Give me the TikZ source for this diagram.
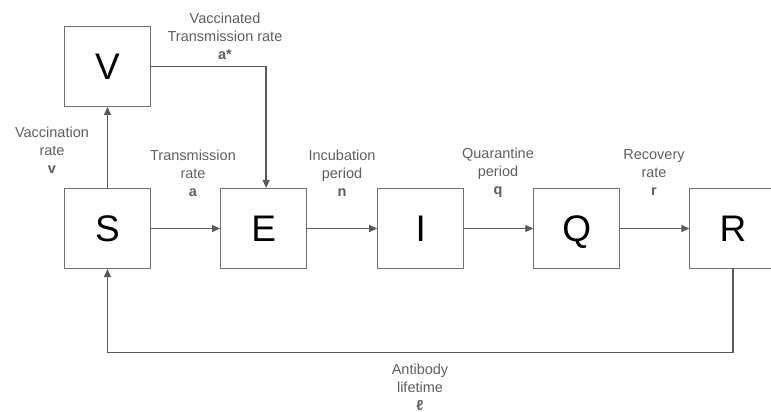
\documentclass[tikz,border=0pt]{standalone}
\usepackage{fontspec}
\setmainfont{Liberation Sans}
\usetikzlibrary{arrows.meta,positioning}
\definecolor{linegray}{HTML}{595959}
\definecolor{boxgray}{HTML}{707070}
\definecolor{textgray}{HTML}{5F5F5F}
\tikzset{
flow/.style={>={Triangle[length=8pt,width=7pt]},x=1pt,y=-1pt,
node distance=69pt,line width=1.3pt},
compartment/.style={rectangle,draw=boxgray,line width=1.1pt,minimum width=86pt,
minimum height=80pt,inner sep=0pt,text height=26.5pt,text depth=0pt,
font=\fontsize{37}{40}\selectfont},
rate/.style={align=center,text=textgray,font=\fontsize{14.5}{18}\selectfont},
transfer/.style={->,draw=linegray},
}

\begin{document}
\begin{tikzpicture}[flow]
\useasboundingbox (0,0) rectangle (771,412);
\node[compartment] (S) at (107.5,228.5) {S};
\node[compartment] (V) [above=81pt of S] {V};
\node[compartment] (E) [right=of S] {E};
\node[compartment] (I) [right=of E, xshift=1pt] {I};
\node[compartment] (Q) [right=of I] {Q};
\node[compartment] (R) [right=of Q] {R};
\coordinate (loop) at (420,352.5);

\draw[transfer] (S) -- (V);
\draw[transfer] (S) -- (E);
\draw[transfer] (E) -- (I);
\draw[transfer] (I) -- (Q);
\draw[transfer] (Q) -- (R);
\draw[transfer] (V.east) -| ([xshift=2.5pt]E.north);
\draw[transfer] (R) |- (loop) -| (S);

\node[rate] (vlabel) at (52,150) {Vaccination\\rate\\\textbf{v}};
\node[rate] (vtlabel) at (225,36) {Vaccinated\\Transmission rate\\\textbf{a*}};
\node[rate] (alabel) at (193,173) {Transmission\\rate\\\textbf{a}};
\node[rate] (nlabel) at (342,173) {Incubation\\period\\\textbf{n}};
\node[rate] (qlabel) at (498,173) {Quarantine\\period\\\textbf{q}};
\node[rate] (rlabel) at (654,173) {Recovery\\rate\\\textbf{r}};
\node[rate] (llabel) at (420,387) {Antibody\\lifetime\\\textbf{ℓ}};
\end{tikzpicture}
\end{document}
